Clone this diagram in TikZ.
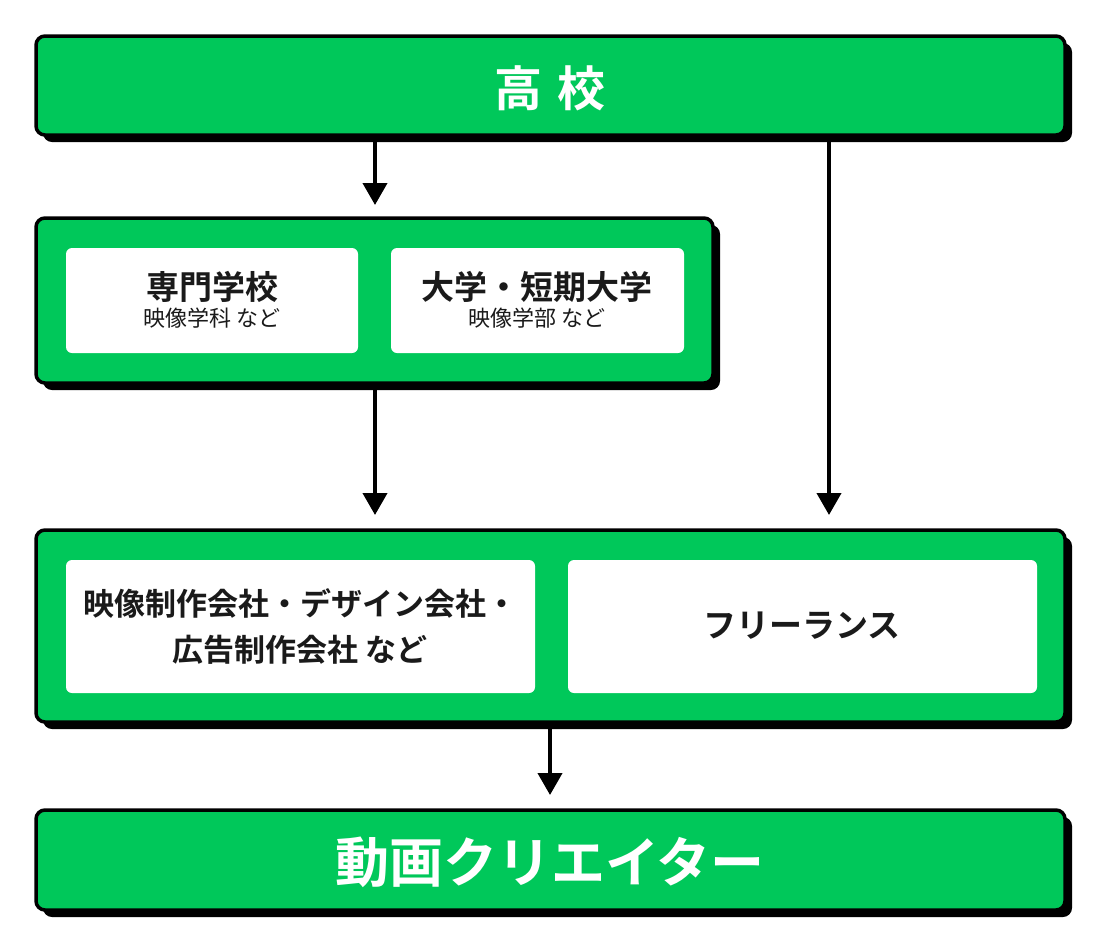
\documentclass[tikz,border=0pt]{standalone}
\usepackage{fontspec}
\setmainfont{Noto Sans CJK JP}[BoldFont={* Bold}]
\usetikzlibrary{arrows.meta}
\definecolor{grn}{HTML}{00C85A}
\definecolor{ink}{HTML}{1A1A1A}
\begin{document}
\begin{tikzpicture}[x=1pt,y=-1pt,
 gbox/.style={fill=grn,draw=black,line width=3.5pt,rounded corners=9pt},
 shadow/.style={fill=black,rounded corners=9pt},
 wbox/.style={fill=white,rounded corners=6pt},
 arr/.style={line width=4pt,-{Triangle[length=22pt,width=24pt]}}]
\useasboundingbox (0,0) rectangle (1102,946);
\foreach \a/\b/\c/\d in {36/36/1065/135, 36/218/713/383, 36/530/1065/722, 36/810/1065/910}{
 \fill[shadow] (\a+7,\b+7) rectangle (\c+7,\d+7);
 \draw[gbox] (\a,\b) rectangle (\c,\d);}
\fill[wbox] (66,248) rectangle (358,353);
\fill[wbox] (391,248) rectangle (684,353);
\fill[wbox] (66,560) rectangle (535,693);
\fill[wbox] (568,560) rectangle (1037,693);
\node[text=white,font=\bfseries\fontsize{48}{52}\selectfont] (hs) at (550,88) {高\hspace{0.3em}校};
\node[text=ink,align=center] (sm) at (212,300) {{\bfseries\fontsize{33}{36}\selectfont 専門学校}\\[4pt]{\fontsize{22}{24}\selectfont 映像学科 など}};
\node[text=ink,align=center] (dg) at (537,300) {{\bfseries\fontsize{33}{36}\selectfont 大学・短期大学}\\[4pt]{\fontsize{22}{24}\selectfont 映像学部 など}};
\node[text=ink,align=center,font=\bfseries\fontsize{31}{46}\selectfont] (co) at (300,626) {映像制作会社・デザイン会社・\\広告制作会社 など};
\node[text=ink,font=\bfseries\fontsize{33}{36}\selectfont] (fl) at (802,626) {フリーランス};
\node[text=white,font=\bfseries\fontsize{54}{60}\selectfont] (cr) at (550,862) {動画クリエイター};
\coordinate (a1) at (375,137); \coordinate (a1e) at (375,205);
\coordinate (a2) at (375,385); \coordinate (a2e) at (375,515);
\coordinate (a3) at (829,137); \coordinate (a3e) at (829,515);
\coordinate (a4) at (550,724); \coordinate (a4e) at (550,795);
\draw[arr] (a1) -- (a1e);
\draw[arr] (a2) -- (a2e);
\draw[arr] (a3) -- (a3e);
\draw[arr] (a4) -- (a4e);
\end{tikzpicture}
\end{document}
